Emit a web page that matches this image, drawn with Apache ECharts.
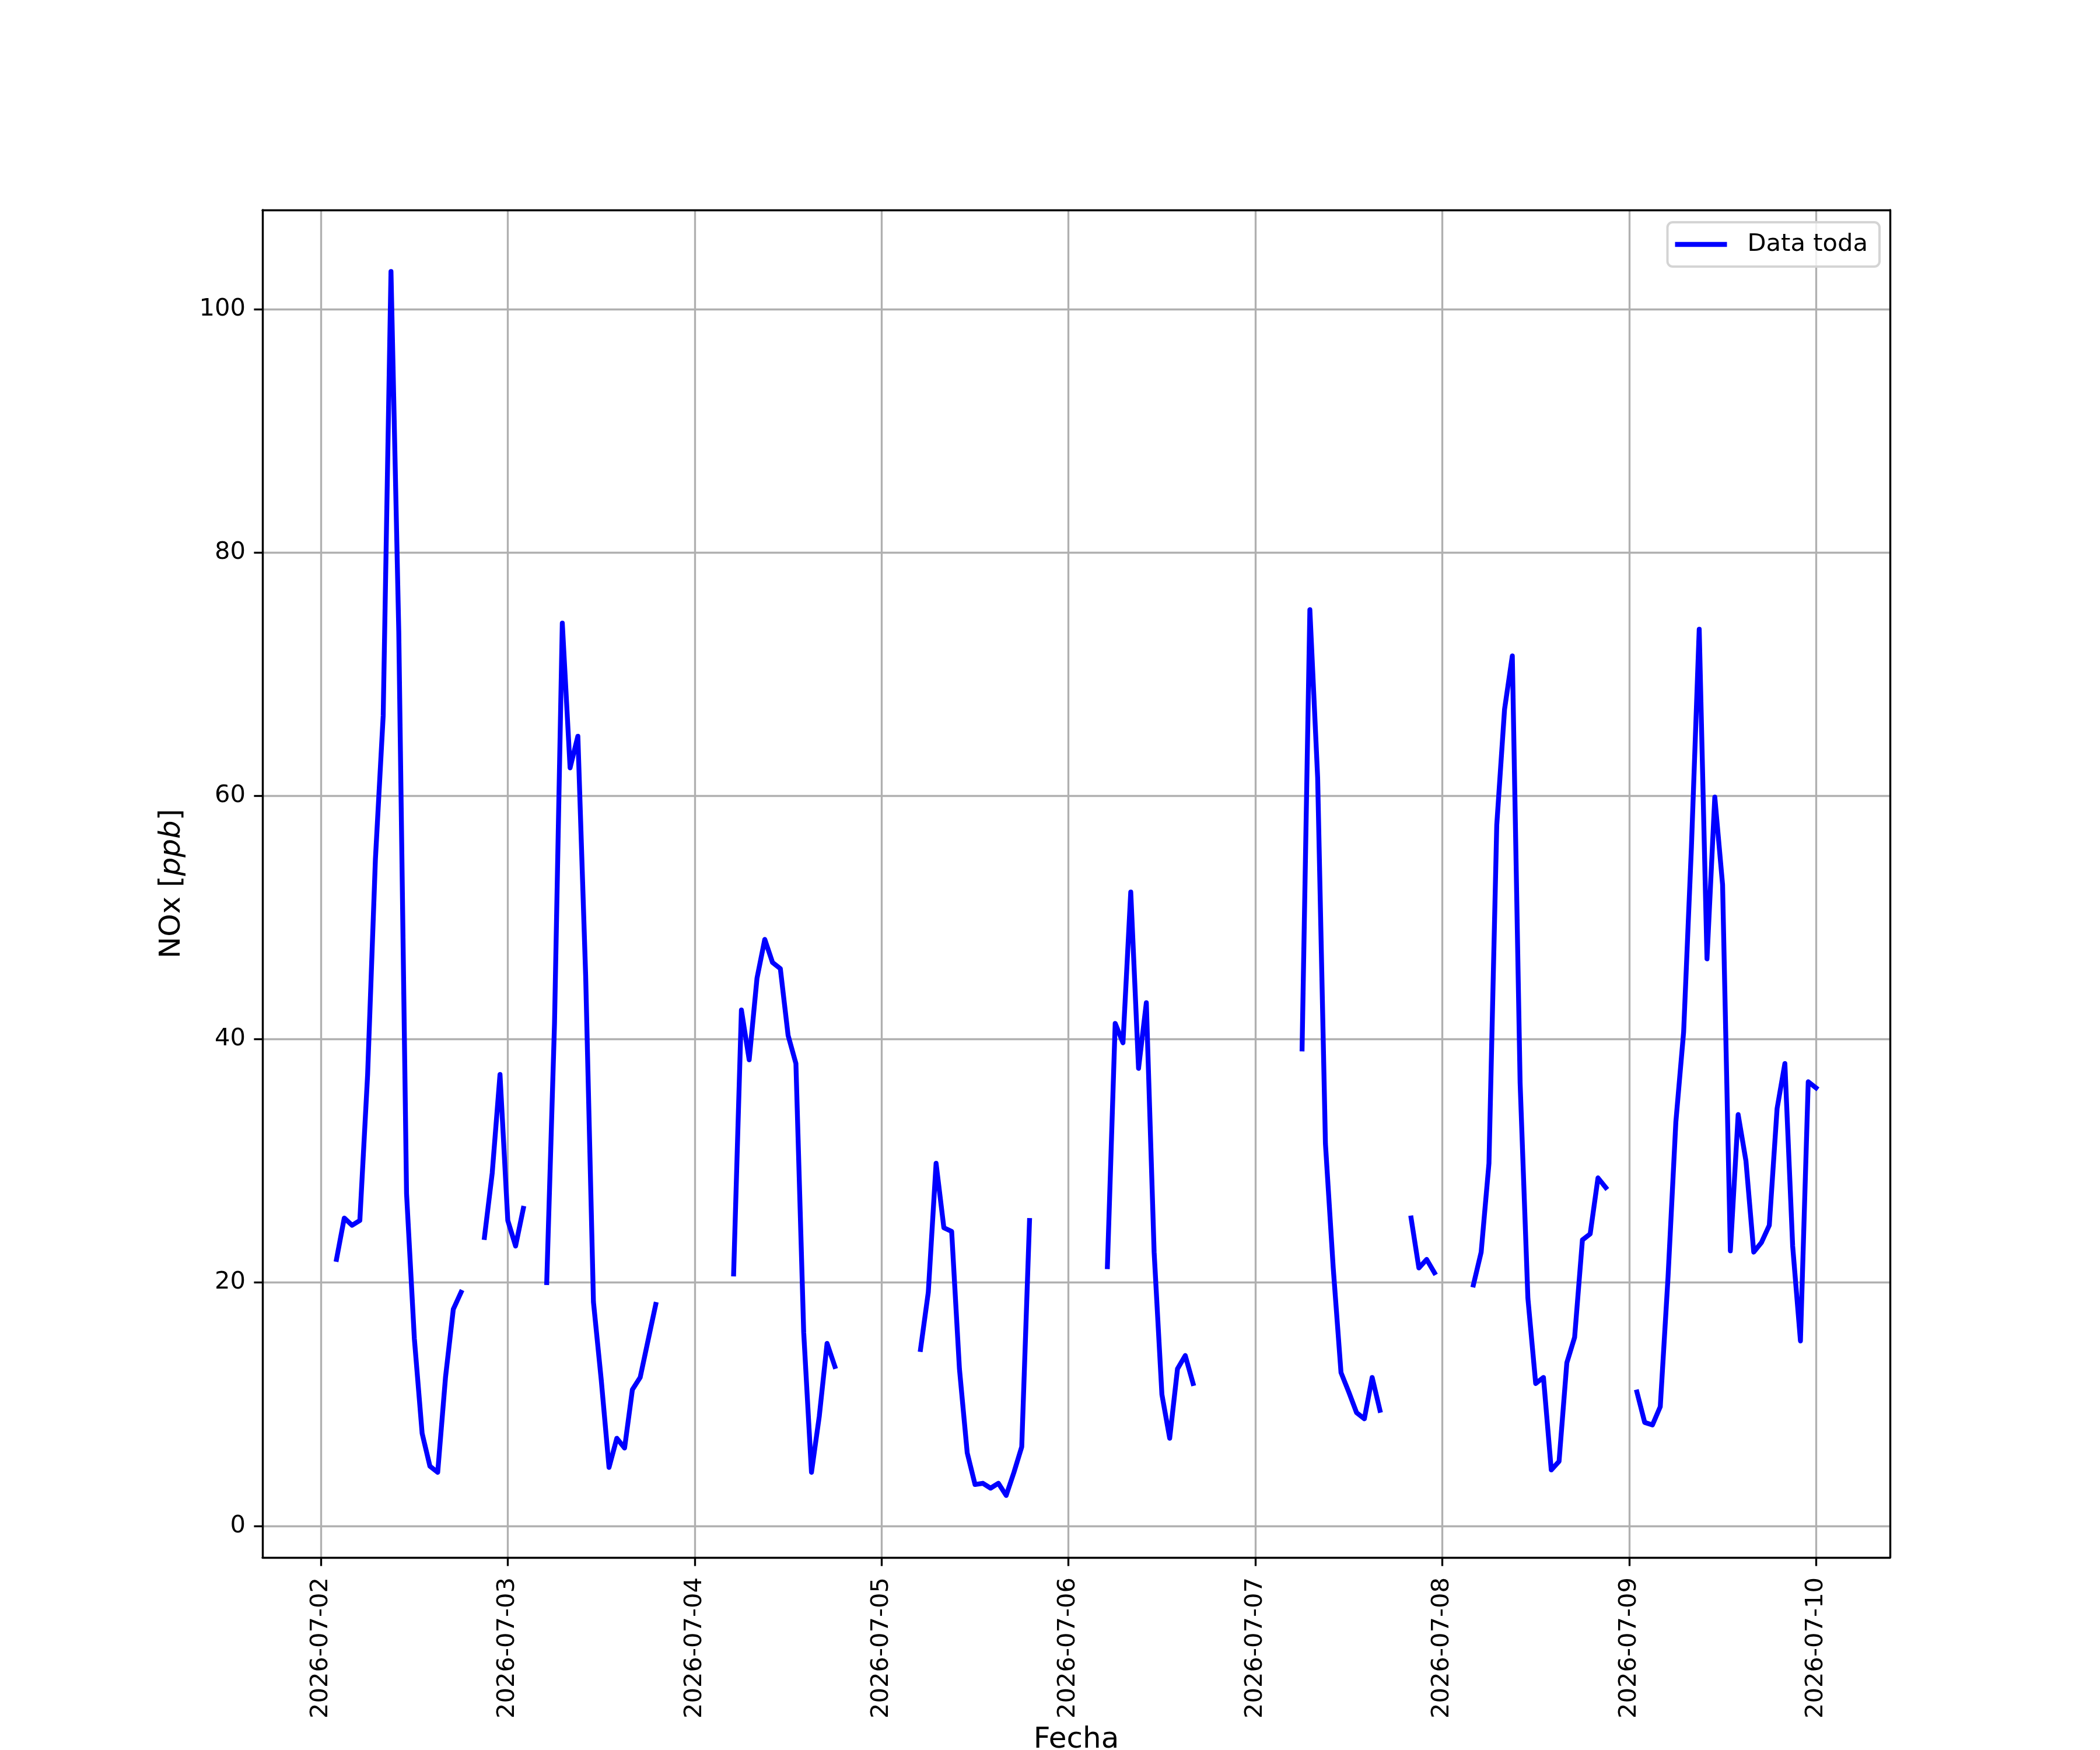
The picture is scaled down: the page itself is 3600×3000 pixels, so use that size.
<!DOCTYPE html>
<html>
<head>
<meta charset="utf-8">
<script src="https://cdn.jsdelivr.net/npm/echarts@6.0.0/dist/echarts.min.js"></script>
<style>
  html, body { margin: 0; padding: 0; background: #ffffff; }
  #chart { width: 3600px; height: 3000px; }
</style>
</head>
<body>
<div id="chart"></div>
<script>
// ---- Data: hourly NOx [ppb], one array per day (hours 00..23), null = missing ----
const dayLabels = ['2026-07-02','2026-07-03','2026-07-04','2026-07-05','2026-07-06','2026-07-07','2026-07-08','2026-07-09','2026-07-10'];
const nox0702 = [null, null, 21.9, 25.3, 24.7, 25.1, 37.1, 54.8, 66.6, 103.1, 73.5, 27.3, 15.4, 7.6, 4.9, 4.4, 12.2, 17.8, 19.2, null, null, 23.7, 29.0, 37.1];
const nox0703 = [25.1, 23.0, 26.1, null, null, 20.0, 41.3, 74.2, 62.3, 64.9, 45.2, 18.4, 12.0, 4.8, 7.2, 6.4, 11.2, 12.2, 15.2, 18.2, null, null, null, null];
const nox0704 = [null, null, null, null, null, 20.7, 42.4, 38.3, 45.0, 48.2, 46.3, 45.8, 40.3, 38.0, 15.9, 4.4, 9.0, 15.0, 13.1, null, null, null, null, null];
const nox0705 = [null, null, null, null, null, 14.5, 19.2, 29.8, 24.5, 24.2, 12.9, 6.0, 3.4, 3.5, 3.1, 3.5, 2.5, 4.4, 6.5, 25.1, null, null, null, null];
const nox0706 = [null, null, null, null, null, 21.3, 41.3, 39.7, 52.1, 37.6, 43.0, 22.5, 10.8, 7.2, 12.9, 14.0, 11.7, null, null, null, null, null, null, null];
const nox0707 = [null, null, null, null, null, null, 39.2, 75.3, 61.5, 31.4, 21.2, 12.6, 11.0, 9.3, 8.8, 12.2, 9.5, null, null, null, 25.3, 21.2, 21.9, 20.8];
const nox0708 = [null, null, null, null, 19.8, 22.5, 29.8, 57.6, 67.1, 71.5, 36.4, 18.7, 11.7, 12.2, 4.6, 5.3, 13.4, 15.5, 23.5, 24.0, 28.6, 27.8, null, null];
const nox0709 = [null, 11.0, 8.5, 8.3, 9.8, 20.5, 33.2, 40.6, 55.8, 73.7, 46.6, 59.9, 52.7, 22.6, 33.8, 30.0, 22.5, 23.3, 24.7, 34.3, 38.0, 23.0, 15.2, 36.5];
const nox0710 = [36.0];
const yTickValues = [0, 20, 40, 60, 80, 100];

const dailyValues = [nox0702, nox0703, nox0704, nox0705, nox0706, nox0707, nox0708, nox0709, nox0710];

function dayDate(label, hour, minute) {
  const p = label.split('-').map(Number);
  return new Date(p[0], p[1] - 1, p[2], hour || 0, minute || 0, 0).getTime();
}

const seriesData = [];
dailyValues.forEach(function (vals, di) {
  vals.forEach(function (v, h) {
    seriesData.push([dayDate(dayLabels[di], h), v === null ? null : v]);
  });
});

// axis extents (matplotlib-style 5% margins)
const xMin = dayDate('2026-07-01', 16, 30);
const xMax = dayDate('2026-07-10', 9, 30);
const yMin = -2.6;
const yMax = 108.15;

const FONT = 'DejaVu Sans';
const LW = 3.33;

function pad2(n) { return (n < 10 ? '0' : '') + n; }
function fmtDay(v) {
  const d = new Date(v);
  if (d.getHours() !== 0 || d.getMinutes() !== 0) return '';
  return d.getFullYear() + '-' + pad2(d.getMonth() + 1) + '-' + pad2(d.getDate());
}

const spine = { show: true, onZero: false, lineStyle: { color: '#000000', width: LW } };
const none = { show: false };

const chart = echarts.init(document.getElementById('chart'), null, { renderer: 'canvas', devicePixelRatio: 1 });
chart.setOption({
  animation: false,
  backgroundColor: '#ffffff',
  grid: { left: 450, top: 360, width: 2790, height: 2310, show: false, containLabel: false, outerBoundsMode: 'none' },
  legend: {
    data: ['Data toda'],
    right: 378,
    top: 381,
    orient: 'horizontal',
    icon: 'rect',
    itemWidth: 89,
    itemHeight: 8.33,
    padding: [14, 20, 14, 13],
    backgroundColor: 'rgba(255,255,255,0.8)',
    borderColor: '#d4d4d4',
    borderWidth: 4,
    borderRadius: 9,
    textStyle: { fontFamily: FONT, fontSize: 41.67, color: '#000000', lineHeight: 48, padding: [0, 0, 0, 30] }
  },
  xAxis: [
    {
      type: 'time',
      min: xMin,
      max: xMax,
      minInterval: 86400000,
      maxInterval: 86400000,
      position: 'bottom',
      z: 0,
      name: 'Fecha',
      nameLocation: 'middle',
      nameGap: 288,
      nameTextStyle: { fontFamily: FONT, fontSize: 50, color: '#000000', lineHeight: 50 },
      axisLine: { show: false, onZero: false },
      axisTick: { show: true, inside: false, length: 14.6, lineStyle: { color: '#000000', width: LW } },
      axisLabel: {
        show: true, rotate: 90, margin: 34, hideOverlap: false,
        fontFamily: FONT, fontSize: 41.67, color: '#000000',
        formatter: function (v) { return fmtDay(v); }
      },
      splitLine: { show: true, lineStyle: { color: '#b0b0b0', width: LW } }
    },
    { type: 'time', min: xMin, max: xMax, position: 'bottom', z: 10, axisLine: spine, axisTick: none, axisLabel: none, splitLine: none },
    { type: 'time', min: xMin, max: xMax, position: 'top', z: 10, axisLine: spine, axisTick: none, axisLabel: none, splitLine: none }
  ],
  yAxis: [
    {
      type: 'value',
      min: yMin,
      max: yMax,
      splitNumber: 5,
      position: 'left',
      z: 0,
      name: '{n|NOx [}{i|ppb}{n|]}',
      nameLocation: 'middle',
      nameRotate: 90,
      nameGap: 130,
      nameTextStyle: {
        fontFamily: FONT, fontSize: 50, color: '#000000', lineHeight: 50,
        rich: {
          n: { fontFamily: FONT, fontSize: 50, color: '#000000', lineHeight: 50 },
          i: { fontFamily: FONT, fontSize: 50, fontStyle: 'italic', color: '#000000', lineHeight: 50 }
        }
      },
      axisLine: { show: false, onZero: false },
      axisTick: { show: true, inside: false, length: 14.6, customValues: yTickValues, lineStyle: { color: '#000000', width: LW } },
      axisLabel: {
        show: true, margin: 29, customValues: yTickValues,
        fontFamily: FONT, fontSize: 41.67, color: '#000000',
        formatter: function (v) { return (Math.abs(v % 20) < 1e-9) ? String(v) : ''; }
      },
      splitLine: { show: true, lineStyle: { color: '#b0b0b0', width: LW } }
    },
    { type: 'value', min: yMin, max: yMax, position: 'left', z: 10, axisLine: spine, axisTick: none, axisLabel: none, splitLine: none },
    { type: 'value', min: yMin, max: yMax, position: 'right', z: 10, axisLine: spine, axisTick: none, axisLabel: none, splitLine: none }
  ],
  series: [
    {
      name: 'Data toda',
      type: 'line',
      xAxisIndex: 0,
      yAxisIndex: 0,
      data: seriesData,
      showSymbol: false,
      symbol: 'none',
      connectNulls: false,
      color: '#0000ff',
      lineStyle: { color: '#0000ff', width: 8.33, join: 'round', cap: 'square' },
      z: 2
    }
  ]
});
</script>
</body>
</html>
